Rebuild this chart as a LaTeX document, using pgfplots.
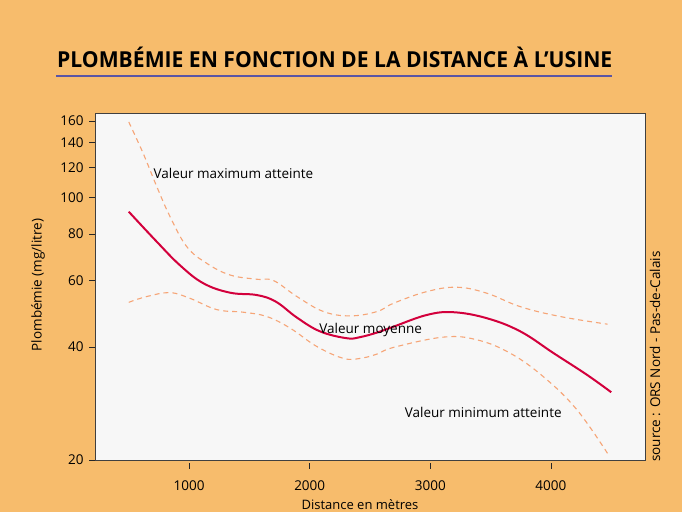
\documentclass[border=0pt]{standalone}
\usepackage{fontspec}
\setmainfont{Open Sans}
\usepackage{pgfplots}
\pgfplotsset{compat=1.18}
\definecolor{bgor}{HTML}{F7BC6C}
\definecolor{plotbg}{HTML}{F7F7F7}
\definecolor{meanred}{HTML}{D3003C}
\definecolor{dashor}{HTML}{F6A577}
\definecolor{uline}{HTML}{5A55A5}
\begin{document}
\begin{tikzpicture}[x=1pt,y=1pt]
\useasboundingbox (0,0) rectangle (682,512);
\fill[bgor] (0,0) rectangle (682,512);
\node[anchor=base west, inner sep=0] at (57,444) {\resizebox{555pt}{\height}{\fontsize{22}{22}\selectfont\bfseries PLOMBÉMIE EN FONCTION DE LA DISTANCE À L’USINE}};
\draw[uline, line width=1.2pt] (56,436) -- (612,436);
\begin{axis}[
  at={(95pt,52pt)}, anchor=south west, scale only axis,
  width=550pt, height=347pt,
  xmin=220, xmax=4780, ymode=log, ymin=20, ymax=168,
  axis background/.style={fill=plotbg},
  axis line style={draw=black!75, line width=0.9pt},
  xtick={1000,2000,3000,4000}, xticklabels={1000,2000,3000,4000},
  ytick={20,40,60,80,100,120,140,160},
  yticklabels={20,40,60,80,100,120,140,160},
  xtick pos=bottom, ytick pos=left,
  tick align=outside, major tick length=6pt,
  minor tick num=0,
  tick style={draw=black!85, line width=0.8pt},
  xtick style={yshift=-3pt},
  ticklabel style={font=\fontsize{13.5}{14}\selectfont},
  xticklabel style={yshift=-11pt},
  yticklabel style={xshift=-2pt},
  clip=false,
]
\addplot[dashor, line width=1.1pt, dash pattern=on 5pt off 4pt, smooth, tension=0.65] coordinates {
(500,159) (620,131) (732,107) (842,89) (981,74.0) (1147,66.8) (1340,62.2)
(1562,60.6) (1700,60.1) (1894,54.5) (2115,49.7) (2336,48.4) (2558,49.7)
(2695,52.3) (2973,56.2) (3222,57.7) (3470,55.6) (3747,51.2) (4079,48.2) (4470,46.0)
};
\addplot[dashor, line width=1.1pt, dash pattern=on 5pt off 4pt, smooth, tension=0.65] coordinates {
(500,52.6) (649,54.5) (842,55.8) (1008,53.9) (1230,50.3) (1451,49.5) (1645,48.2)
(1838,44.9) (2060,40.1) (2281,37.3) (2419,37.3) (2558,38.3) (2695,39.9)
(3110,42.5) (3386,41.8) (3663,38.5) (3939,33.3) (4216,27.2) (4479,20.6)
};
\addplot[meanred, line width=2pt, smooth, tension=0.65] coordinates {
(500,91.7) (732,76.3) (925,66) (1119,59.1) (1340,55.8) (1562,55.0) (1720,52.8)
(1894,47.9) (2087,44.0) (2309,42.2) (2419,42.5) (2558,43.7) (2695,45.3)
(2973,48.7) (3193,49.5) (3470,47.7) (3747,44.0) (4023,38.5) (4300,33.7) (4500,30.3)
};
\node[anchor=west, inner sep=0, font=\fontsize{13.5}{14}\selectfont] at (axis cs:704,116) {Valeur maximum atteinte};
\node[anchor=west, inner sep=0, font=\fontsize{13.5}{14}\selectfont] at (axis cs:2079,44.4) {Valeur moyenne};
\node[anchor=west, inner sep=0, font=\fontsize{13.5}{14}\selectfont] at (axis cs:2787,26.7) {Valeur minimum atteinte};
\end{axis}
\node[rotate=90, font=\fontsize{13.5}{14}\selectfont] at (38,227) {Plombémie (mg/litre)};
\node[anchor=base, font=\fontsize{13}{14}\selectfont, inner sep=0] at (360,3) {Distance en mètres};
\node[rotate=90, anchor=west, inner sep=0, font=\fontsize{13.5}{14}\selectfont] at (655,50) {source : ORS Nord - Pas-de-Calais};
\end{tikzpicture}
\end{document}
